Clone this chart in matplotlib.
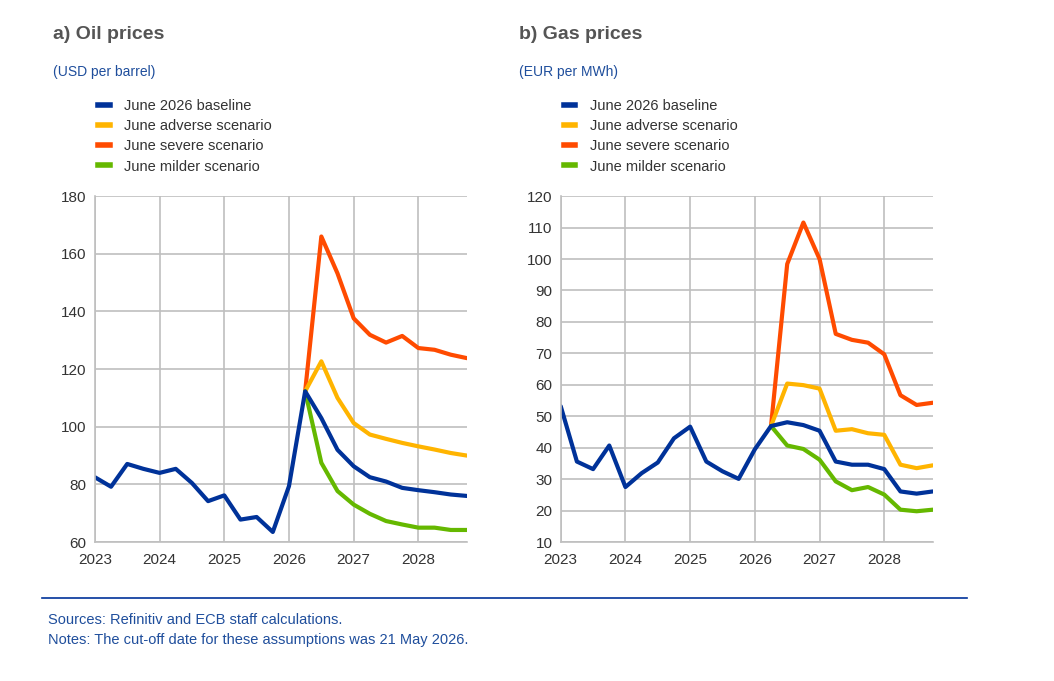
import matplotlib
matplotlib.use("Agg")
import matplotlib.pyplot as plt
from matplotlib.lines import Line2D
import numpy as np

plt.rcParams['font.family'] = ['Liberation Sans', 'DejaVu Sans']

# quarterly, 2023Q1 .. 2028Q4
quarters = np.arange(2023, 2029, 0.25)

oil_baseline = [82.5, 79.2, 87.1, 85.4, 84.0, 85.4, 80.5, 74.2, 76.2, 67.8, 68.7, 63.5,
                79.4, 112.3, 103.0, 92.0, 86.3, 82.5, 81.0, 78.8, 78.0, 77.3, 76.5, 76.0]
oil_adverse = [112.3, 122.7, 110.0, 101.3, 97.3, 95.8, 94.4, 93.2, 92.1, 90.9, 90.0]
oil_severe = [112.3, 166.0, 153.2, 137.6, 131.9, 129.2, 131.5, 127.3, 126.7, 125.0, 123.8]
oil_milder = [112.3, 87.5, 77.7, 73.0, 69.8, 67.3, 66.1, 65.0, 65.0, 64.2, 64.2]

gas_baseline = [53.2, 35.6, 33.2, 40.7, 27.5, 31.9, 35.3, 43.0, 46.7, 35.6, 32.5, 30.1,
                39.5, 46.9, 48.1, 47.2, 45.4, 35.6, 34.6, 34.6, 33.2, 26.1, 25.4, 26.1]
gas_adverse = [46.9, 60.4, 59.9, 58.8, 45.4, 45.9, 44.6, 44.1, 34.6, 33.5, 34.4]
gas_severe = [46.9, 98.4, 111.6, 100.0, 76.2, 74.3, 73.4, 69.7, 56.7, 53.6, 54.3]
gas_milder = [46.9, 40.7, 39.6, 36.2, 29.3, 26.5, 27.5, 25.1, 20.3, 19.8, 20.3]

labels = ['June 2026 baseline', 'June adverse scenario',
          'June severe scenario', 'June milder scenario']
colors = ['#003299', '#ffb400', '#ff4b00', '#65b800']

panels = [
    ("a) Oil prices", "(USD per barrel)", [oil_baseline, oil_adverse, oil_severe, oil_milder],
     (60, 180), np.arange(60, 181, 20), 0.090),
    ("b) Gas prices", "(EUR per MWh)", [gas_baseline, gas_adverse, gas_severe, gas_milder],
     (10, 120), np.arange(10, 121, 10), 0.532),
]

fig = plt.figure(figsize=(10.54, 6.81), dpi=100)
grey = '#bfbfbf'
blue_txt = '#1f4e9c'
lw = 3.0

for title, unit, series, ylim, yticks, left in panels:
    ax = fig.add_axes([left, 0.204, 0.353, 0.508])
    x_scen = quarters[13:]
    # scenarios first, baseline on top
    ax.plot(x_scen, series[2], color=colors[2], lw=lw, solid_capstyle='round')
    ax.plot(x_scen, series[1], color=colors[1], lw=lw, solid_capstyle='round')
    ax.plot(x_scen, series[3], color=colors[3], lw=lw, solid_capstyle='round')
    ax.plot(quarters, series[0], color=colors[0], lw=lw, solid_capstyle='round')

    ax.set_xlim(2023, 2028.75)
    ax.set_ylim(*ylim)
    ax.set_yticks(yticks)
    ax.set_xticks(range(2023, 2029))
    ax.set_xticklabels([str(y) for y in range(2023, 2029)])
    ax.grid(True, color=grey, lw=1.2)
    ax.set_axisbelow(True)
    for s in ['top', 'right']:
        ax.spines[s].set_visible(False)
    for s in ['left', 'bottom']:
        ax.spines[s].set_color(grey)
        ax.spines[s].set_linewidth(1.2)
    ax.tick_params(length=0, labelsize=11, colors='#333333')
    ax.tick_params(axis='x', pad=8)
    ax.tick_params(axis='y', pad=6)

    fx = left - 0.04
    fig.text(fx, 0.950, title, fontsize=14, fontweight='bold', color='#555555', va='center')
    fig.text(fx, 0.894, unit, fontsize=10, color=blue_txt, va='center')

    handles = [Line2D([0], [0], color=c, lw=4) for c in colors]
    leg = fig.legend(handles, labels, loc='upper left', bbox_to_anchor=(fx + 0.036, 0.865),
                     frameon=False, fontsize=10.5, handlelength=0.8, handletextpad=1.0,
                     labelspacing=0.42, borderpad=0)
    for t in leg.get_texts():
        t.set_color('#333333')

fig.add_artist(Line2D([0.040, 0.917], [0.122, 0.122], color='#003299', lw=1.2))
fig.text(0.046, 0.089, "Sources: Refinitiv and ECB staff calculations.", fontsize=10.5,
         color=blue_txt, va='center')
fig.text(0.046, 0.060, "Notes: The cut-off date for these assumptions was 21 May 2026.",
         fontsize=10.5, color=blue_txt, va='center')

fig.savefig("out.png", dpi=100)
